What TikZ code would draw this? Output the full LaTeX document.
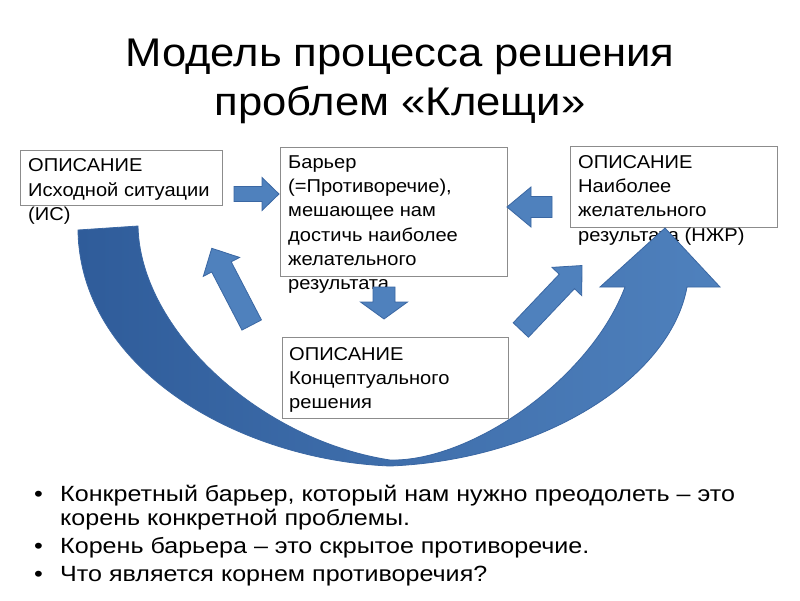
\documentclass[tikz,border=0pt]{standalone}
\usepackage{fontspec}
\setmainfont{Liberation Sans}
\newfontfamily\titlefam[FakeStretch=1.09]{Liberation Sans}
\newfontfamily\boxfam[FakeStretch=1.08]{Liberation Sans}
\newfontfamily\bulletfam[FakeStretch=1.14]{Liberation Sans}
\definecolor{blk}{HTML}{4F81BD}
\definecolor{blkdark}{HTML}{2F5C9A}
\definecolor{blkline}{HTML}{3A67A3}
\definecolor{boxline}{HTML}{8C8C8C}
\newcommand\fl{\rule{0pt}{15pt}}
\newcommand\blockarr[6]{%
  \draw[blockarrow, shift={#1}, rotate=#2] (0,-#5) -- ({#3-#4},-#5) -- ({#3-#4},-#6) -- (#3,0) -- ({#3-#4},#6) -- ({#3-#4},#5) -- (0,#5) -- cycle;}
\begin{document}
\begin{tikzpicture}[x=1pt,y=-1pt,
  boxshape/.style={draw=boxline, line width=0.9pt, fill=white, inner sep=0pt},
  boxtext/.style={anchor=north west, inner sep=0pt, align=left, font=\boxfam\fontsize{18.6}{24.3}\selectfont},
  titletext/.style={anchor=base, inner sep=0pt, font=\titlefam\fontsize{40}{49}\selectfont},
  bullettext/.style={anchor=base west, inner sep=0pt, font=\bulletfam\fontsize{22}{26}\selectfont},
  blockarrow/.style={fill=blk, draw=blkline, line width=0.8pt, line join=miter},
  bigarrow/.style={left color=blkdark, right color=blk, draw=blkline, line width=0.8pt}]
\useasboundingbox (0,0) rectangle (800,600);
\fill[white] (0,0) rectangle (800,600);

% title
\node[titletext] (title1) at (400,66) {Модель процесса решения};
\node[titletext] (title2) at (400,115) {проблем «Клещи»};

% boxes
\node[boxshape, minimum width=202pt, minimum height=55pt] (b1) at (121.7,177.5) {};
\node[boxshape, minimum width=226.6pt, minimum height=129.4pt] (b2) at (394,212) {};
\node[boxshape, minimum width=207pt, minimum height=81pt] (b3) at (673.5,186.5) {};
\node[boxshape, minimum width=226pt, minimum height=81pt] (b4) at (395,377.5) {};

\node[boxtext] (t1) at (28,156.7) {\fl ОПИСАНИЕ\\Исходной ситуации\\(ИС)};
\node[boxtext] (t2) at (288,153) {\fl Барьер\\(=Противоречие),\\мешающее нам\\достичь наиболее\\желательного\\результата};
\node[boxtext] (t3) at (578,153) {\fl ОПИСАНИЕ\\Наиболее\\желательного\\результата (НЖР)};
\node[boxtext] (t4) at (289,345) {\fl ОПИСАНИЕ\\Концептуального\\решения};

% big curved arrow
\draw[bigarrow] (78,230) -- (138,226)
  .. controls (140,330) and (260,440) .. (390,460)
  .. controls (470,462) and (590,380) .. (625,287)
  -- (600,287) -- (665,228) -- (720,287) -- (687,287)
  .. controls (670,380) and (540,460) .. (390,466)
  .. controls (240,460) and (80,370) .. (78,230) -- cycle;

% small block arrows
\blockarr{(234,194)}{0}{45}{17}{7.5}{16.5}
\blockarr{(552,207)}{180}{45}{24}{10.5}{20}
\blockarr{(384,287)}{-90}{32}{17}{11}{23.5}
\blockarr{(251.7,325)}{117.5}{86.5}{21}{11}{20.5}
\blockarr{(520.8,330)}{46.5}{88.9}{22}{10.5}{20.5}

% bullets
\node[bullettext] (d1) at (34,501) {•};
\node[bullettext] (l1) at (60,501) {Конкретный барьер, который нам нужно преодолеть – это};
\node[bullettext] (l1b) at (60,525) {корень конкретной проблемы.};
\node[bullettext] (d2) at (34,553) {•};
\node[bullettext] (l2) at (60,553) {Корень барьера – это скрытое противоречие.};
\node[bullettext] (d3) at (34,581) {•};
\node[bullettext] (l3) at (60,581) {Что является корнем противоречия?};
\end{tikzpicture}
\end{document}
